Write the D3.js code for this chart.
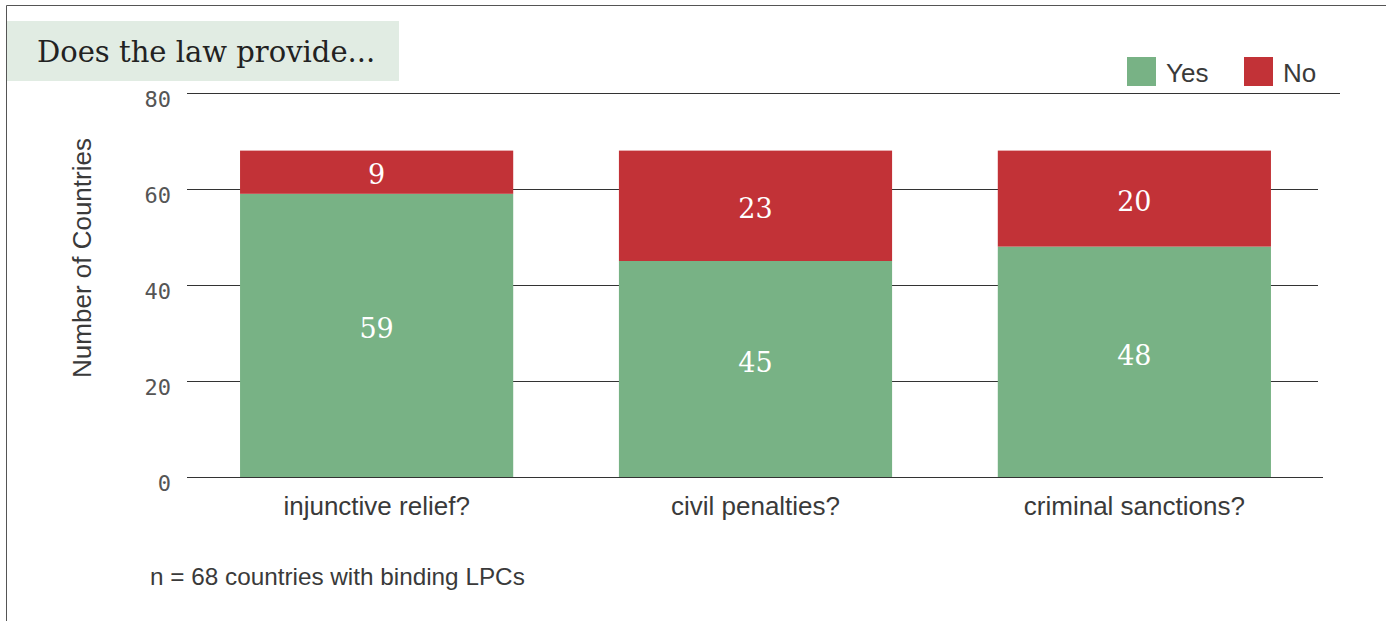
<!DOCTYPE html>
<html>
<head>
<meta charset="utf-8">
<script src="https://cdn.jsdelivr.net/npm/d3@7"></script>
<style>
  body { margin: 0; background: #fff; }
  svg { display: block; }
</style>
</head>
<body>
<svg id="chart" width="1386" height="621"></svg>
<script>
// data
var categories = ['injunctive relief?', 'civil penalties?', 'criminal sanctions?'];
var yesValues = [59, 45, 48];
var noValues = [9, 23, 20];
var yTicks = [0, 20, 40, 60, 80];
var seriesNames = ['Yes', 'No'];
var seriesColors = ['#78b285', '#c23237'];

var svg = d3.select('#chart');
var sans = '"Liberation Sans", Arial, sans-serif';

// frame
svg.append('path').attr('d', 'M6.5,621 V5.5 H1386')
    .attr('fill', 'none').attr('stroke', '#555').attr('stroke-width', 1);

// title box
svg.append('rect').attr('x', 7).attr('y', 21).attr('width', 392).attr('height', 60)
    .attr('fill', '#e1ece3');
svg.append('text').attr('x', 37).attr('y', 62)
    .attr('font-family', '"DejaVu Serif", serif').attr('font-size', 29)
    .attr('fill', '#222').text('Does the law provide...');

var x = d3.scaleBand().domain(categories).range([187, 1324])
    .paddingInner(0.279).paddingOuter(0.14);
var y = d3.scaleLinear().domain([0, 80]).range([477, 93]);

// grid lines
svg.append('g').selectAll('line').data(yTicks).enter().append('line')
    .attr('x1', 187).attr('x2', d => d == 80 ? 1340 : (d == 0 ? 1323 : 1318))
    .attr('y1', d => Math.round(y(d)) + 0.5).attr('y2', d => Math.round(y(d)) + 0.5)
    .attr('stroke', '#333').attr('stroke-width', 1);

// tick labels
svg.append('g').selectAll('text').data(yTicks).enter().append('text')
    .attr('x', 171).attr('y', d => y(d) + 14)
    .attr('text-anchor', 'end')
    .attr('font-family', '"DejaVu Sans Mono", monospace').attr('font-size', 22)
    .attr('fill', '#555').text(d => d);

// stacked data
var rows = categories.map((c, i) => ({ cat: c, Yes: yesValues[i], No: noValues[i] }));
var stacked = d3.stack().keys(seriesNames)(rows);

var layers = svg.append('g').selectAll('g').data(stacked).enter().append('g')
    .attr('fill', (d, i) => seriesColors[i]);
layers.selectAll('rect').data(d => d).enter().append('rect')
    .attr('x', d => x(d.data.cat))
    .attr('width', x.bandwidth())
    .attr('y', d => y(d[1]))
    .attr('height', d => y(d[0]) - y(d[1]));

// value labels
svg.append('g').selectAll('g').data(stacked).enter().append('g')
    .selectAll('text').data((d, k) => d.map(v => ({ v: v, k: k }))).enter().append('text')
    .attr('x', d => x(d.v.data.cat) + x.bandwidth() / 2)
    .attr('y', d => (y(d.v[0]) + y(d.v[1])) / 2 + (d.k == 0 ? 3 : 12))
    .attr('text-anchor', 'middle')
    .attr('font-family', '"DejaVu Serif", serif').attr('font-size', 27)
    .attr('fill', '#fff').text(d => d.v[1] - d.v[0]);

// category labels
svg.append('g').selectAll('text').data(categories).enter().append('text')
    .attr('x', d => x(d) + x.bandwidth() / 2).attr('y', 515)
    .attr('text-anchor', 'middle')
    .attr('font-family', sans).attr('font-size', 26)
    .attr('fill', '#3a3a3a').text(d => d);

// y axis title
svg.append('text')
    .attr('transform', 'translate(91,258) rotate(-90)')
    .attr('text-anchor', 'middle')
    .attr('font-family', sans).attr('font-size', 26)
    .attr('fill', '#3a3a3a').text('Number of Countries');

// legend
var lg = svg.append('g').selectAll('g').data(seriesNames).enter().append('g')
    .attr('transform', (d, i) => 'translate(' + (1127 + i * 117) + ',57)');
lg.append('rect').attr('width', 29).attr('height', 29).attr('fill', (d, i) => seriesColors[i]);
lg.append('text').attr('x', 39).attr('y', 25)
    .attr('font-family', sans).attr('font-size', 26)
    .attr('fill', '#3a3a3a').text(d => d);

// footnote
svg.append('text').attr('x', 150).attr('y', 585)
    .attr('font-family', sans).attr('font-size', 24.3)
    .attr('fill', '#3a3a3a').text('n = 68 countries with binding LPCs');
</script>
</body>
</html>
